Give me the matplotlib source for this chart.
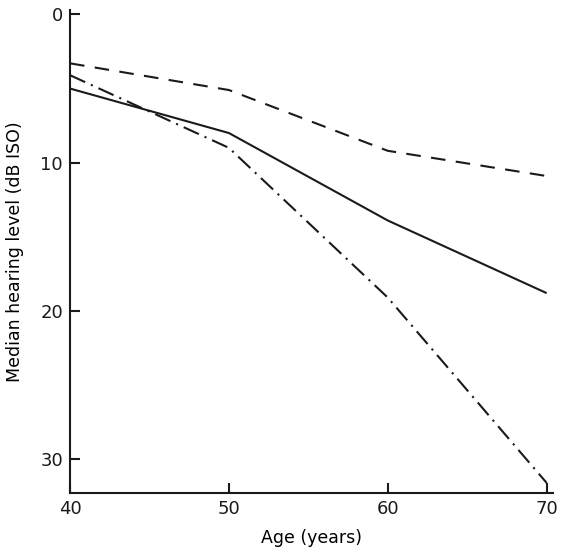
import matplotlib
matplotlib.use("Agg")
import matplotlib.pyplot as plt

ages = [40, 50, 60, 70]
solid_level = [5, 8, 13.9, 18.8]
dashed_level = [3.3, 5.1, 9.2, 10.9]
dashdot_level = [4.1, 9.0, 19.1, 31.6]
x_ticks = [40, 50, 60, 70]
y_ticks = [0, 10, 20, 30]

plt.rcParams['font.family'] = ['DejaVu Sans']
fig = plt.figure(figsize=(5.61, 5.48), dpi=100)
ax = fig.add_axes([0.1248, 0.1004, 0.861, 0.8814])

ax.plot(ages, solid_level, color='#1a1a1a', lw=1.5, solid_capstyle='butt')
ax.plot(ages, dashed_level, color='#1a1a1a', lw=1.5, dashes=(7, 5))
ax.plot(ages, dashdot_level, color='#1a1a1a', lw=1.5, dashes=(8, 3, 1, 3))

ax.set_xlim(40, 70.4)
ax.set_ylim(32.28, -0.3)
ax.set_xticks(x_ticks)
ax.set_yticks(y_ticks)
for s in ['top', 'right']:
    ax.spines[s].set_visible(False)
for s in ['left', 'bottom']:
    ax.spines[s].set_linewidth(1.5)
    ax.spines[s].set_color('#1a1a1a')
ax.tick_params(direction='in', length=7, width=1.5, labelsize=13, colors='#1a1a1a', pad=5)

ax.set_xlabel('Age (years)', fontsize=12.5, labelpad=8)
ax.set_ylabel('Median hearing level (dB ISO)', fontsize=12.5, labelpad=12)

fig.savefig('out.png', dpi=100)
